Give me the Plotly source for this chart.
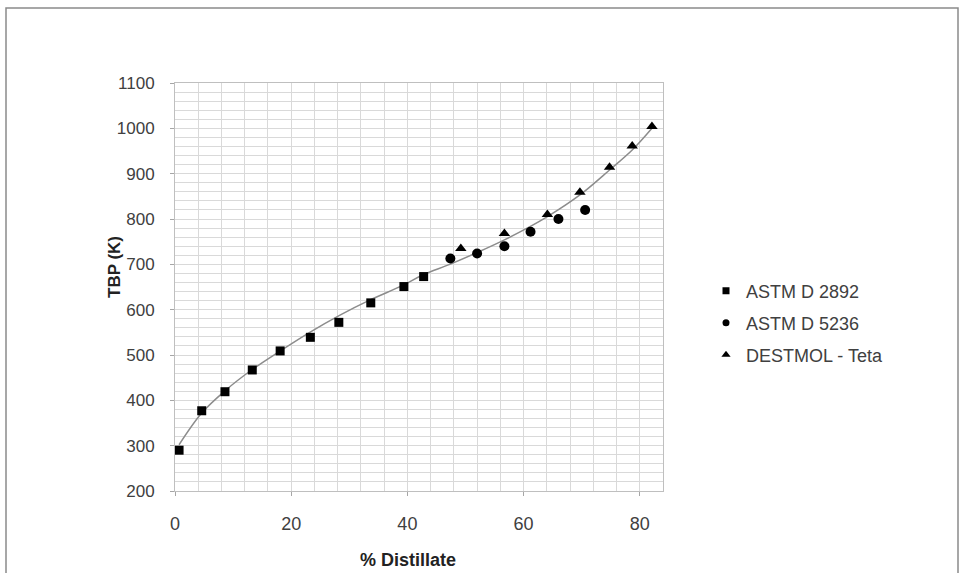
import plotly.graph_objects as go

# --- data ---
astm2892_x = [0.7, 4.6, 8.6, 13.3, 18.1, 23.3, 28.2, 33.7, 39.4, 42.8]
astm2892_y = [290, 377, 419, 467, 509, 539, 572, 615, 651, 673]

astm5236_x = [47.4, 52.0, 56.7, 61.2, 66.0, 70.6]
astm5236_y = [713, 724, 740, 772, 800, 820]

destmol_x = [49.2, 56.7, 64.1, 69.7, 74.8, 78.7, 82.1]
destmol_y = [735, 768, 810, 859, 914, 961, 1004]

trend_x = [0.7, 4.6, 8.6, 13.3, 18.0, 23.2, 28.4, 33.5, 39.3, 42.7, 47.3, 52.0,
           56.7, 61.1, 64.1, 69.7, 74.8, 78.7, 82.1]
trend_y = [302, 372, 421, 468, 508, 550, 588, 621, 654, 677, 700, 726,
           754, 783, 805, 853, 908, 952, 1000]

series_names = ["ASTM D 2892", "ASTM D 5236", "DESTMOL - Teta"]
x_title = "% Distillate"
y_title = "TBP (K)"
x_range = [0, 84]
y_range = [200, 1100]

FONT = "Liberation Sans, Arial, sans-serif"
TXT = "#404040"

fig = go.Figure()

fig.add_trace(go.Scatter(
    x=trend_x, y=trend_y, mode="lines", line=dict(color="#8c8c8c", width=1.5, shape="spline"),
    showlegend=False, hoverinfo="skip"))

specs = [
    (astm2892_x, astm2892_y, "square", 9, 7, "legend"),
    (astm5236_x, astm5236_y, "circle", 10, 7, "legend2"),
    (destmol_x, destmol_y, "triangle-up", 10, 8, "legend3"),
]
for name, (xs, ys, sym, size, lsize, leg) in zip(series_names, specs):
    fig.add_trace(go.Scatter(
        x=xs, y=ys, mode="markers", name=name, showlegend=False,
        marker=dict(symbol=sym, size=size, color="black")))
    # legend entry with smaller symbol (no data drawn)
    fig.add_trace(go.Scatter(
        x=[None], y=[None], mode="markers", name=name, legend=leg,
        marker=dict(symbol=sym, size=lsize, color="black")))

L, R, T, B = 175, 663, 83, 491
W, H = 960, 573
pw, ph = R - L, B - T


def px(x):
    return (x - L) / pw


def py(y):
    return (B - y) / ph


leg_common = dict(xanchor="left", yanchor="middle", bgcolor="rgba(0,0,0,0)",
                  font=dict(family=FONT, size=18, color=TXT))
fig.update_layout(
    legend=dict(x=px(706), y=py(291), **leg_common),
    legend2=dict(x=px(706), y=py(323), **leg_common),
    legend3=dict(x=px(706), y=py(355), **leg_common),
)

grid = "#d9d9d9"
fig.update_xaxes(
    range=x_range, dtick=20, tick0=0, showgrid=True, gridcolor=grid, gridwidth=1,
    minor=dict(dtick=4, showgrid=True, gridcolor=grid, gridwidth=1),
    showline=True, linecolor="#bfbfbf", linewidth=1, mirror=True,
    ticks="outside", ticklen=4, tickcolor="#a6a6a6",
    ticklabelstandoff=12, zeroline=False,
    tickfont=dict(family=FONT, size=18, color=TXT),
)
fig.update_yaxes(
    range=y_range, dtick=100, tick0=200, showgrid=True, gridcolor=grid, gridwidth=1,
    minor=dict(dtick=20, showgrid=True, gridcolor=grid, gridwidth=1),
    showline=True, linecolor="#bfbfbf", linewidth=1, mirror=True,
    ticks="outside", ticklen=4, tickcolor="#a6a6a6",
    ticklabelstandoff=12, zeroline=False,
    tickfont=dict(family=FONT, size=17, color=TXT),
)

fig.add_annotation(text="<b>" + x_title + "</b>", xref="paper", yref="paper",
                   x=px(408), y=py(560), showarrow=False, xanchor="center", yanchor="middle",
                   font=dict(family=FONT, size=18, color="#222"))
fig.add_annotation(text="<b>" + y_title + "</b>", xref="paper", yref="paper",
                   x=px(114), y=py(267), showarrow=False, xanchor="center", yanchor="middle",
                   textangle=-90, font=dict(family=FONT, size=17, color="#222"))

fig.add_shape(type="rect", xref="paper", yref="paper",
              x0=px(6), x1=px(958), y0=py(640), y1=py(8),
              line=dict(color="#8a8a8a", width=1.5), fillcolor="rgba(0,0,0,0)", layer="below")

fig.update_layout(
    width=W, height=H, autosize=False,
    margin=dict(l=L, r=W - R, t=T, b=H - B),
    paper_bgcolor="white", plot_bgcolor="white",
    font=dict(family=FONT, color=TXT),
)

fig.write_html("out.html")
